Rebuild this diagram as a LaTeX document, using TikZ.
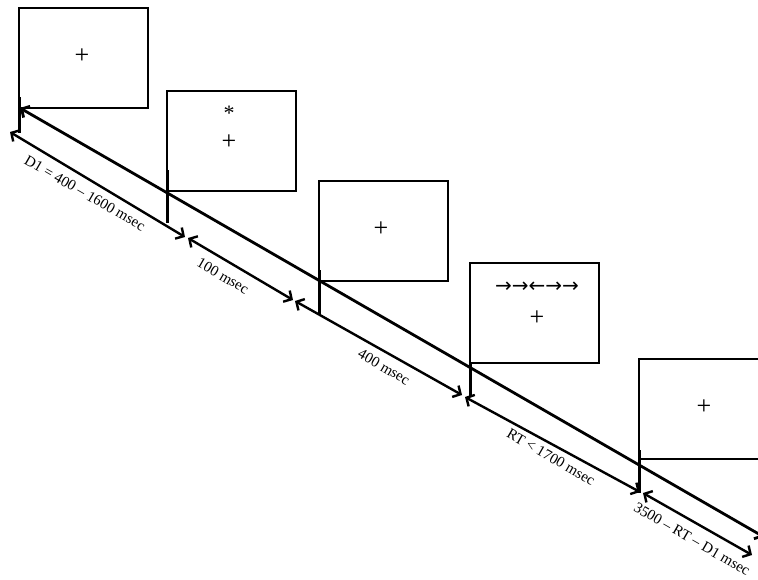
\documentclass[tikz,border=0pt]{standalone}
\usepackage{fontspec}
\setmainfont{Liberation Serif}
\newfontfamily\arrowfont{DejaVu Sans}
\usetikzlibrary{arrows.meta}
\begin{document}
\begin{tikzpicture}[x=1pt,y=-1pt,
  screen/.style={draw, line width=2pt, minimum width=129pt, minimum height=100pt,
    inner sep=0pt, outer sep=0pt, anchor=north west},
  fixcross/.style={font=\fontsize{26}{26}\selectfont, inner sep=0pt},
  cue/.style={font=\fontsize{22}{22}\selectfont, inner sep=0pt, anchor=base},
  flankers/.style={font=\arrowfont\fontsize{20}{20}\selectfont, inner sep=0pt},
  barb/.tip={Straight Barb[length=6pt,width=13pt]},
  timeline/.style={line width=2.8pt, barb-barb},
  interval/.style={line width=2.4pt, barb-barb},
  onset/.style={line width=3pt},
  duration/.style={font=\fontsize{15}{15}\selectfont, rotate=-30, inner sep=0pt}
]
\useasboundingbox (0,0) rectangle (758,579);
\clip (0,0) rectangle (758,579);

% screens shown in the trial
\node[screen] (s1) at (19,8) {};
\node[screen] (s2) at (167,91) {};
\node[screen] (s3) at (319,181) {};
\node[screen] (s4) at (470,263) {};
\node[screen] (s5) at (639,359) {};

% screen contents
\node[fixcross] (f1) at (82,56) {+};
\node[fixcross] (f2) at (229,142) {+};
\node[cue] (c2) at (229,120) {*};
\node[fixcross] (f3) at (381,229) {+};
\node[fixcross] (f4) at (537,318) {+};
\node[flankers] (t4) at (537,287) {→→←→→};
\node[fixcross] (f5) at (704,407) {+};

% main time axis
\coordinate (m0) at (20,108);
\coordinate (m1) at (764,537);
\draw[timeline] (m0) -- (m1);

% onset markers
\coordinate (o1a) at (19,97);   \coordinate (o1b) at (19,133);
\coordinate (o2a) at (167,170); \coordinate (o2b) at (167,223);
\coordinate (o3a) at (319,270); \coordinate (o3b) at (319,314);
\coordinate (o4a) at (470,364); \coordinate (o4b) at (470,397);
\coordinate (o5a) at (639,450); \coordinate (o5b) at (639,493);
\foreach \i in {1,...,5} \draw[onset] (o\i a) -- (o\i b);

% interval arrows
\coordinate (a0) at (10,132);  \coordinate (a1) at (185,237);
\coordinate (b0) at (188,238); \coordinate (b1) at (293,300);
\coordinate (c0) at (295,301); \coordinate (c1) at (462,395);
\coordinate (d0) at (465,397); \coordinate (d1) at (640,492);
\coordinate (e0) at (643,493); \coordinate (e1) at (752,555);
\draw[interval] (a0) -- (a1);
\draw[interval] (b0) -- (b1);
\draw[interval] (c0) -- (c1);
\draw[interval] (d0) -- (d1);
\draw[interval] (e0) -- (e1);

% interval labels
\node[duration] (la) at (85,193) {D1 = 400 – 1600 msec};
\node[duration] (lb) at (223,276) {100 msec};
\node[duration] (lc) at (384,367) {400 msec};
\node[duration] (ld) at (551,457) {RT < 1700 msec};
\node[duration] (le) at (692,539) {3500 – RT – D1 msec};
\end{tikzpicture}
\end{document}
